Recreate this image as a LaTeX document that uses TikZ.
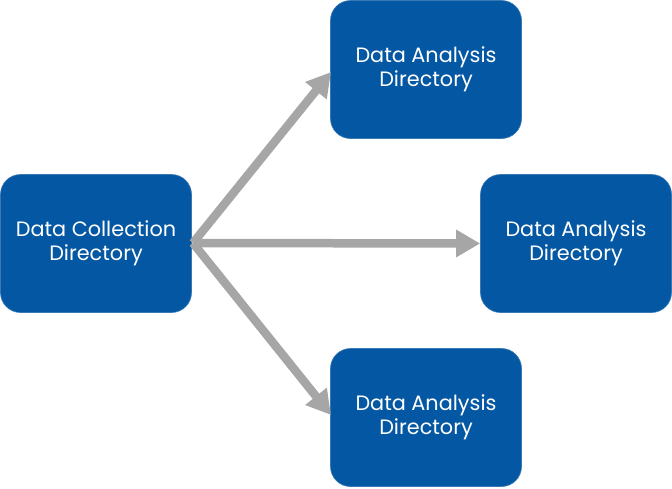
\documentclass[tikz,border=0pt]{standalone}
\usepackage{fontspec}
\setmainfont{Poppins}
\usetikzlibrary{arrows.meta}
\definecolor{boxblue}{HTML}{0457A2}
\definecolor{arrgray}{HTML}{A6A6A6}
\begin{document}
\begin{tikzpicture}[x=1pt,y=-1pt,
  box/.style={draw=boxblue!80!white, line width=0.6pt, fill=boxblue, rounded corners=20pt,
    minimum width=191pt, minimum height=138pt, inner sep=0pt,
    text=white, align=center, font=\fontsize{20.8}{24}\selectfont},
  conn/.style={draw=arrgray, line width=8.5pt, -{Triangle[length=24pt,width=26pt]}}]
\useasboundingbox (0,0) rectangle (672,488);
\node[box] (src) at (96,243.5) {Data Collection\\Directory};
\node[box] (a1) at (426,69.5) {Data Analysis\\Directory};
\node[box] (a2) at (576,243.5) {Data Analysis\\Directory};
\node[box] (a3) at (426,417.5) {Data Analysis\\Directory};
\coordinate (s) at (193,243);
\coordinate (t1) at (331,72);
\coordinate (t3) at (331,415);
\draw[conn] (s) -- (t1);
\draw[conn] (s) -- (a2.west);
\draw[conn] (s) -- (t3);
\end{tikzpicture}
\end{document}
